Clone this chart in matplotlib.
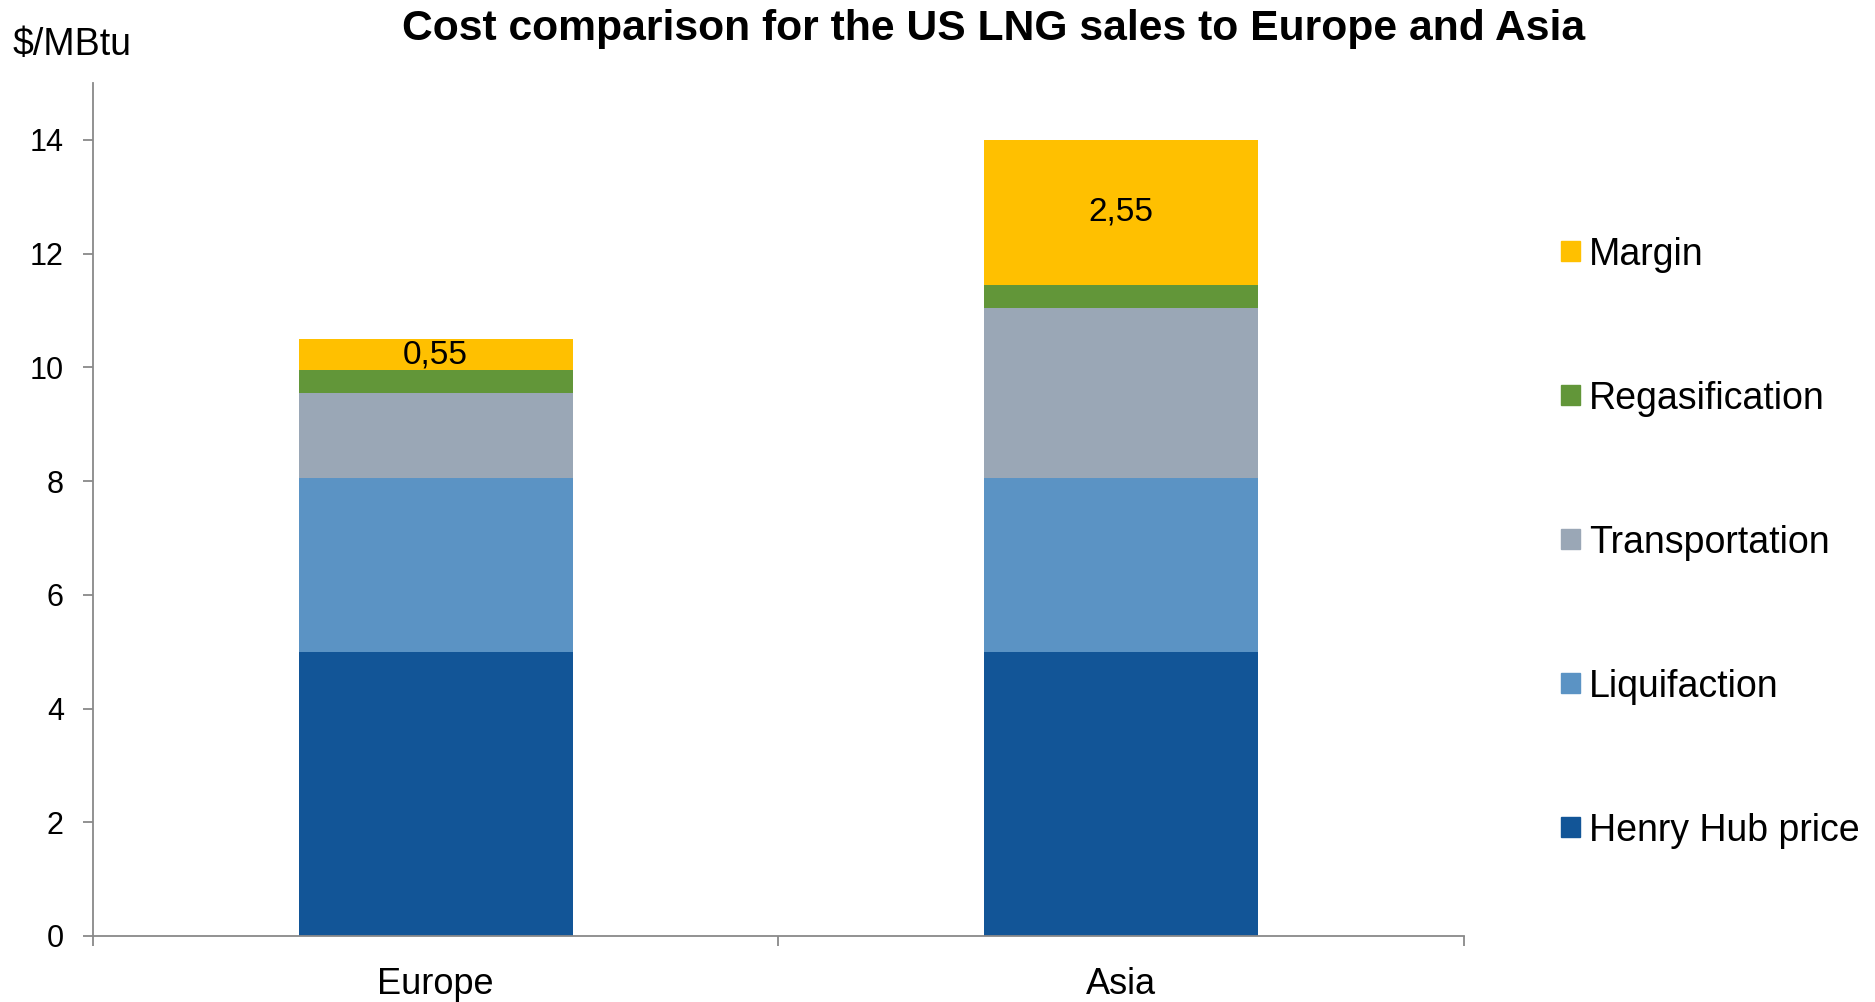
import matplotlib
matplotlib.use('Agg')
import matplotlib.pyplot as plt
from matplotlib.patches import Patch

plt.rcParams['font.family'] = ['Liberation Sans', 'DejaVu Sans']

regions = ['Europe', 'Asia']
henry_hub = [5.0, 5.0]
liquifaction = [3.05, 3.05]
transportation = [1.5, 3.0]
regasification = [0.4, 0.4]
margin = [0.55, 2.55]
margin_labels = ['0,55', '2,55']

series = ['Henry Hub price', 'Liquifaction', 'Transportation', 'Regasification', 'Margin']
values = [henry_hub, liquifaction, transportation, regasification, margin]
colors = ['#125597', '#5B93C4', '#9AA7B6', '#629639', '#FFC000']

fig = plt.figure(figsize=(18.75, 10.02), dpi=100)
ax = fig.add_axes([0.0496, 0.0659, 0.7312, 0.8513])

x = [0.5, 1.5]
bottom = [0.0, 0.0]
for name, vals, c in zip(series, values, colors):
    bars = ax.bar(x, vals, width=0.4, bottom=bottom, color=c, label=name, linewidth=0)
    bottom = [b + v for b, v in zip(bottom, vals)]
ax.bar_label(bars, labels=margin_labels, label_type='center', fontsize=24)

ax.set_xlim(0, 2)
ax.set_ylim(0, 15)
ax.set_yticks(range(0, 15, 2))
ax.set_xticks([0, 1, 2])
ax.set_xticklabels([])
ax.set_xticks(x, minor=True)
ax.set_xticklabels(regions, minor=True, fontsize=26)
ax.tick_params(axis='x', which='minor', length=0, pad=22)
ax.tick_params(axis='x', which='major', length=7, width=1.3, color='#898989', direction='out')
ax.tick_params(axis='y', length=7, width=1.3, color='#898989', labelsize=22, pad=14)

for s in ['top', 'right']:
    ax.spines[s].set_visible(False)
for s in ['left', 'bottom']:
    ax.spines[s].set_color('#898989')
    ax.spines[s].set_linewidth(1.3)

fig.text(0.0065, 0.955, '$/MBtu', fontsize=27, va='center', ha='left')
fig.text(0.53, 0.971, 'Cost comparison for the US LNG sales to Europe and Asia',
         fontsize=30.7, fontweight='bold', ha='center', va='center')

handles = [Patch(color=c, label=n) for n, c in zip(series, colors)][::-1]
fig.legend(handles=handles, loc='center left', bbox_to_anchor=(0.8325, 0.4585),
           frameon=False, fontsize=27, handlelength=0.52, handleheight=0.45,
           handletextpad=0.22, labelspacing=2.88, borderpad=0, borderaxespad=0)

fig.savefig('out.png', dpi=100)
